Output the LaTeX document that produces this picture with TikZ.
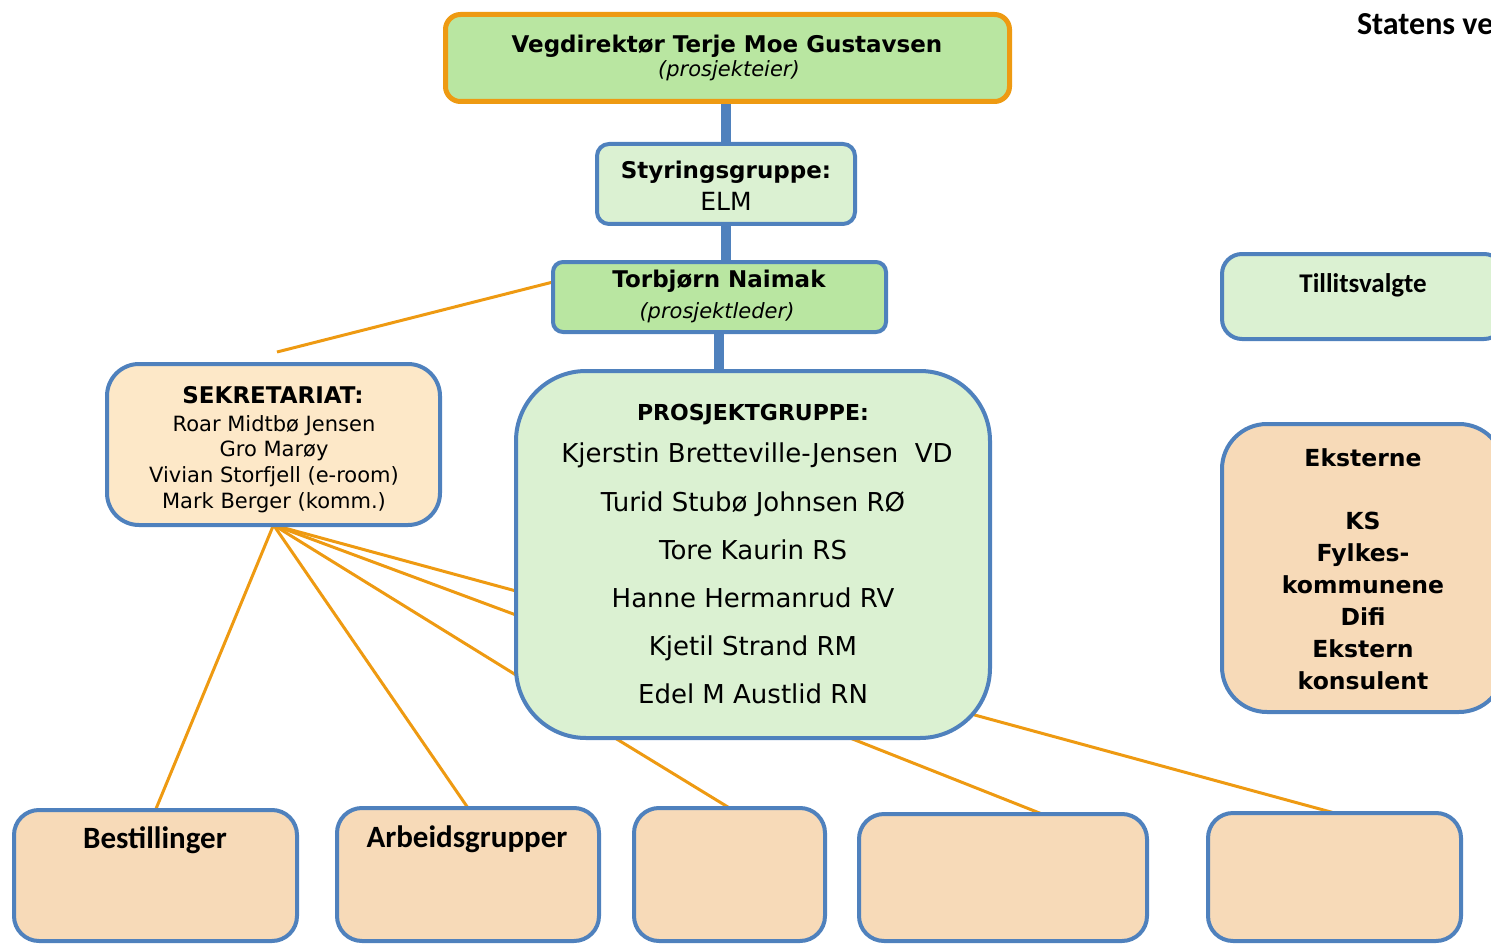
\documentclass[tikz,border=0pt]{standalone}
\usepackage{fontspec}
\setmainfont{DejaVu Sans}
\newfontfamily\calfont{Carlito}
\usetikzlibrary{calc}
\pgfdeclarelayer{background}
\pgfsetlayers{background,main}
\definecolor{orng}{HTML}{EE9A12}
\definecolor{sblue}{HTML}{4F81BD}
\definecolor{dgreen}{HTML}{B9E6A1}
\definecolor{lgreen}{HTML}{DBF1D2}
\definecolor{lpeach}{HTML}{FDE8C8}
\definecolor{peach}{HTML}{F7DAB8}
\tikzset{
  box/.style={draw=sblue, line width=4pt, inner sep=0pt, outer sep=0pt, rectangle},
  txt/.style={anchor=base, inner sep=0pt, outer sep=0pt},
  vline/.style={draw=sblue, line width=10pt},
  oline/.style={draw=orng, line width=3pt},
  fA/.style={font=\bfseries\fontsize{23}{27}\selectfont},
  fP/.style={font=\bfseries\fontsize{22}{26}\selectfont},
  fI/.style={font=\itshape\fontsize{21}{25}\selectfont},
  fR/.style={font=\fontsize{26}{30}\selectfont},
  fL/.style={font=\fontsize{25}{29}\selectfont},
  fS/.style={font=\fontsize{21}{25}\selectfont},
  fC/.style={font=\calfont\bfseries\fontsize{31}{35}\selectfont},
  fT/.style={font=\calfont\bfseries\fontsize{27}{31}\selectfont},
  fH/.style={font=\calfont\bfseries\fontsize{32}{36}\selectfont},
  fE/.style={font=\bfseries\fontsize{23.5}{28}\selectfont},
}
\begin{document}
\begin{tikzpicture}[x=1pt,y=-1pt]
\useasboundingbox (0,0) rectangle (1491,944);
% boxes
\node[box, draw=orng, line width=5pt, fill=dgreen, rounded corners=15pt, minimum width=564pt, minimum height=87pt] (veg) at (727.5,58) {};
\node[box, fill=lgreen, rounded corners=12pt, minimum width=258pt, minimum height=80pt] (sty) at (726,184) {};
\node[box, fill=dgreen, rounded corners=10pt, minimum width=333pt, minimum height=70pt] (tor) at (719.5,297) {};
\node[box, fill=lpeach, rounded corners=32pt, minimum width=333pt, minimum height=161pt] (sek) at (273.5,444.5) {};
\node[box, fill=lgreen, rounded corners=70pt, minimum width=474pt, minimum height=367pt] (pro) at (753,554.5) {};
\node[box, fill=lgreen, rounded corners=20pt, minimum width=282pt, minimum height=85pt] (til) at (1363,296.5) {};
\node[box, fill=peach, rounded corners=45pt, minimum width=282pt, minimum height=288pt] (eks) at (1363,568) {};
\node[box, fill=peach, rounded corners=25pt, minimum width=283pt, minimum height=131pt] (b1) at (155.5,875.5) {};
\node[box, fill=peach, rounded corners=25pt, minimum width=262pt, minimum height=133pt] (b2) at (468,874.5) {};
\node[box, fill=peach, rounded corners=25pt, minimum width=191pt, minimum height=133pt] (b3) at (729.5,874.5) {};
\node[box, fill=peach, rounded corners=25pt, minimum width=288pt, minimum height=127pt] (b4) at (1003,877.5) {};
\node[box, fill=peach, rounded corners=25pt, minimum width=253pt, minimum height=128pt] (b5) at (1334.5,877) {};
\coordinate (secTop) at (277,352);
% connectors
\begin{pgfonlayer}{background}
\draw[vline] (veg.south -| sty.north) -- (sty.north);
\draw[vline] (sty.south) -- (sty.south |- tor.north);
\draw[vline] (tor.south -| pro.north) ++(-34pt,0) coordinate (torS) -- (torS |- pro.north);
\draw[oline] ([yshift=15pt]tor.west) -- (secTop);
\draw[oline] (sek.south) -- (b1.north);
\draw[oline] (sek.south) -- (b2.north);
\draw[oline] (sek.south) -- ([yshift=-36.5pt]pro.west);
\draw[oline] (sek.south) -- ([yshift=-60.5pt]pro.west);
\draw[oline] (sek.south) -- ([yshift=-120.5pt]pro.west);
\draw[oline] ([xshift=-138pt]pro.south) -- (b3.north);
\draw[oline] ([xshift=97pt]pro.south) -- ([xshift=39pt]b4.north);
\draw[oline] ([xshift=-30pt,yshift=-156.5pt]pro.east) -- (b5.north);
\end{pgfonlayer}
% texts
\node[txt, fA] (vegT) at (727,53) {Vegdirektør Terje Moe Gustavsen};
\node[txt, fI] (vegS) at (729,77) {(prosjekteier)};
\node[txt, fA] (styT) at (726,179) {Styringsgruppe:};
\node[txt, fL] (styS) at (726,211) {ELM};
\node[txt, fA] (torT) at (719,287) {Torbjørn Naimak};
\node[txt, fI] (torS2) at (717,318) {(prosjektleder)};
\node[txt, fA] (sekT) at (273,403) {SEKRETARIAT:};
\node[txt, fS] (sek1) at (274,431) {Roar Midtbø Jensen};
\node[txt, fS] (sek2) at (274,456) {Gro Marøy};
\node[txt, fS] (sek3) at (274,482) {Vivian Storfjell (e-room)};
\node[txt, fS] (sek4) at (274,508) {Mark Berger (komm.)};
\node[txt, fP] (proT) at (753,420) {PROSJEKTGRUPPE:};
\node[txt, fR] (pro1) at (757,462) {Kjerstin Bretteville-Jensen\ \ VD};
\node[txt, fR] (pro2) at (753,511) {Turid Stubø Johnsen RØ};
\node[txt, fR] (pro3) at (753,559) {Tore Kaurin RS};
\node[txt, fR] (pro4) at (753,607) {Hanne Hermanrud RV};
\node[txt, fR] (pro5) at (753,655) {Kjetil Strand RM};
\node[txt, fR] (pro6) at (753,703) {Edel M Austlid RN};
\node[txt, fT] (tilT) at (1363,292) {Tillitsvalgte};
\node[txt, fE] (eks0) at (1363,466) {Eksterne};
\node[txt, fE] (eks1) at (1363,529) {KS};
\node[txt, fE] (eks2) at (1363,561) {Fylkes-};
\node[txt, fE] (eks3) at (1363,593) {kommunene};
\node[txt, fE] (eks4) at (1363,625) {Difi};
\node[txt, fE] (eks5) at (1363,657) {Ekstern};
\node[txt, fE] (eks6) at (1363,689) {konsulent};
\node[txt, fC] (b1T) at (155,848) {Bestillinger};
\node[txt, fC] (b2T) at (467,847) {Arbeidsgrupper};
\node[txt, fH, anchor=base west] (stat) at (1357,35) {Statens vegvesen};
\end{tikzpicture}
\end{document}
